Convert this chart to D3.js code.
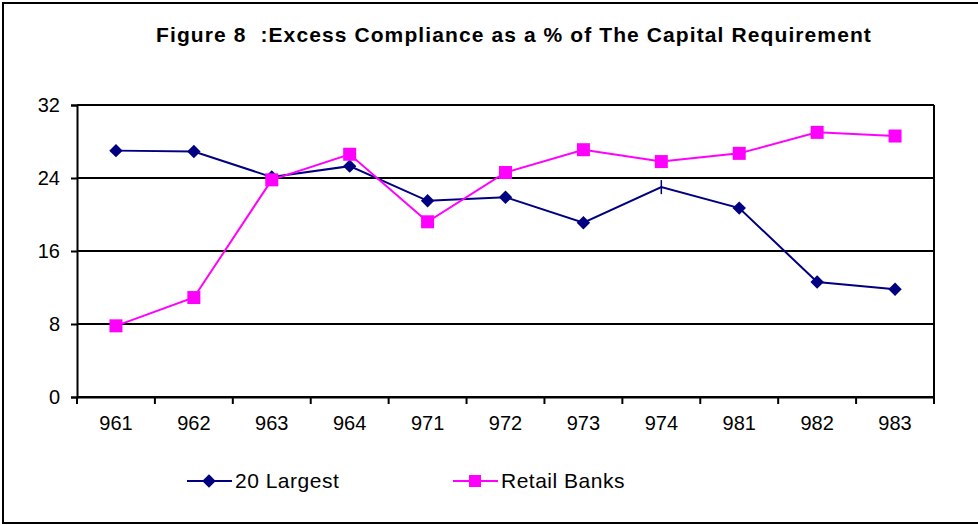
<!DOCTYPE html>
<html>
<head>
<meta charset="utf-8">
<script src="https://cdn.jsdelivr.net/npm/d3@7"></script>
<style>
  body { margin: 0; background: #fff; }
  text { font-family: "Liberation Sans", Arial, sans-serif; fill: #000; }
</style>
</head>
<body>
<div id="chart"></div>
<script>
const categories = ["961", "962", "963", "964", "971", "972", "973", "974", "981", "982", "983"]
const largest = [27.0, 26.9, 24.1, 25.3, 21.5, 21.9, 19.1, 23.0, 20.7, 12.6, 11.8]
const retail = [7.8, 10.9, 23.8, 26.6, 19.2, 24.6, 27.1, 25.8, 26.7, 29.0, 28.6]
const yTicks = [0, 8, 16, 24, 32]
const titleText = "Figure 8  :Excess Compliance as a % of The Capital Requirement"

const width = 978, height = 525
const margin = {top: 105, right: 44, bottom: 128, left: 77}
const plotW = width - margin.left - margin.right,
    plotH = height - margin.top - margin.bottom

const svg = d3.select("#chart").append("svg")
    .attr("width", width).attr("height", height)

// outer frame
svg.append("rect").attr("x", 3).attr("y", 3)
    .attr("width", width + 10).attr("height", 520)
    .attr("fill", "none").attr("stroke", "#000").attr("stroke-width", 2)

svg.append("text").attr("x", 514).attr("y", 42)
    .attr("text-anchor", "middle").attr("font-weight", "bold").attr("font-size", "21px")
    .attr("letter-spacing", "1.1px").style("white-space", "pre")
    .text(titleText)

const x = d3.scaleBand().domain(categories).range([0, plotW])
const y = d3.scaleLinear().domain([0, 32]).range([plotH, 0])

const g = svg.append("g").attr("transform", `translate(${margin.left},${margin.top})`)

// gridlines
g.selectAll(".grid").data(yTicks).join("line").attr("class", "grid")
    .attr("x1", 0).attr("x2", plotW)
    .attr("y1", d => y(d)).attr("y2", d => y(d))
    .attr("stroke", "#000").attr("stroke-width", 2)
// right border
g.append("line").attr("x1", plotW).attr("x2", plotW).attr("y1", 0).attr("y2", plotH)
    .attr("stroke", "#000").attr("stroke-width", 2)

const yAxis = g.append("g").call(d3.axisLeft(y).tickValues(yTicks).tickSize(6).tickPadding(11))
const xAxis = g.append("g").attr("transform", `translate(0,${plotH})`)
    .call(d3.axisBottom(x).tickSize(0).tickPadding(27))
xAxis.selectAll(".tick").append("line")
    .attr("x1", -x.bandwidth() / 2).attr("x2", -x.bandwidth() / 2).attr("y1", 0).attr("y2", 7)
    .attr("stroke", "#000").attr("stroke-width", 2)
xAxis.append("line").attr("x1", plotW).attr("x2", plotW).attr("y1", 0).attr("y2", 7)
    .attr("stroke", "#000").attr("stroke-width", 2)
;[yAxis, xAxis].forEach(a => {
    a.select(".domain").attr("stroke-width", 2)
    a.selectAll(".tick line").attr("stroke-width", 2)
    a.selectAll("text").attr("font-size", "20px").attr("font-family", "Liberation Sans, Arial, sans-serif").attr("fill", "#000")
})
xAxis.selectAll(".tick text").attr("dy", "0.32em")

const cx = d => x(d) + x.bandwidth() / 2
const line = d3.line().x((d, i) => cx(categories[i])).y(d => y(d))

const diamond = d3.symbol().type(d3.symbolDiamond2).size(115)

g.append("path").datum(largest).attr("d", line)
    .attr("fill", "none").attr("stroke", "#000080").attr("stroke-width", 2)
g.append("path").datum(retail).attr("d", line)
    .attr("fill", "none").attr("stroke", "#ff00ff").attr("stroke-width", 2)

// point 974 shows only a small tick in the original, no diamond
const largestPts = largest.map((v, i) => ({cat: categories[i], v, i}))
g.selectAll(".dia").data(largestPts.filter(p => p.i !== 7)).join("path").attr("class", "dia")
    .attr("transform", p => `translate(${cx(p.cat)},${y(p.v)})`)
    .attr("d", diamond).attr("fill", "#000080")
g.append("line")
    .attr("x1", cx(categories[7])).attr("x2", cx(categories[7]))
    .attr("y1", y(largest[7]) - 7).attr("y2", y(largest[7]) + 7)
    .attr("stroke", "#000080").attr("stroke-width", 1.5)

g.selectAll(".sq").data(retail).join("rect").attr("class", "sq")
    .attr("x", (d, i) => cx(categories[i]) - 6.5).attr("y", d => y(d) - 6.5)
    .attr("width", 13).attr("height", 13).attr("fill", "#ff00ff")

// legend
const legend = svg.append("g").attr("transform", "translate(187,481)")
const items = [
    {name: "20 Largest", color: "#000080", mark: "diamond", x: 0},
    {name: "Retail Banks", color: "#ff00ff", mark: "square", x: 266}
]
items.forEach(it => {
    const lg = legend.append("g").attr("transform", `translate(${it.x},0)`)
    lg.append("line").attr("x1", 0).attr("x2", 45).attr("y1", 0).attr("y2", 0)
        .attr("stroke", it.color).attr("stroke-width", 2)
    if (it.mark === "diamond")
        lg.append("path").attr("transform", "translate(22,0)").attr("d", diamond).attr("fill", it.color)
    else
        lg.append("rect").attr("x", 16).attr("y", -6).attr("width", 12).attr("height", 12).attr("fill", it.color)
    lg.append("text").attr("x", 48).attr("y", 0).attr("dy", "0.35em")
        .attr("font-size", "21px").attr("letter-spacing", "0.5px").text(it.name)
})
</script>
</body>
</html>
